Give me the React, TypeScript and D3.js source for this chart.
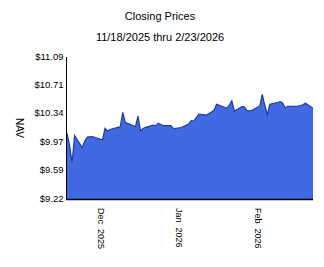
import React from "react";
import * as d3 from "d3";

const dates: string[] = [
  "2025-11-18","2025-11-19","2025-11-20","2025-11-21","2025-11-24","2025-11-25","2025-11-26","2025-11-28",
  "2025-12-01","2025-12-02","2025-12-03","2025-12-04","2025-12-05","2025-12-08","2025-12-09","2025-12-10",
  "2025-12-11","2025-12-12","2025-12-15","2025-12-16","2025-12-17","2025-12-18","2025-12-19","2025-12-22",
  "2025-12-23","2025-12-24","2025-12-26","2025-12-29","2025-12-30","2025-12-31","2026-01-02","2026-01-05",
  "2026-01-06","2026-01-07","2026-01-08","2026-01-09","2026-01-12","2026-01-13","2026-01-14","2026-01-15",
  "2026-01-16","2026-01-20","2026-01-21","2026-01-22","2026-01-23","2026-01-26","2026-01-27","2026-01-28",
  "2026-01-29","2026-01-30","2026-02-02","2026-02-03","2026-02-04","2026-02-05","2026-02-06","2026-02-09",
  "2026-02-10","2026-02-11","2026-02-12","2026-02-13","2026-02-17","2026-02-18","2026-02-19","2026-02-20",
  "2026-02-23",
];

const nav: number[] = [
  10.085, 9.931, 9.698, 10.054, 9.896, 9.984, 10.036, 10.043,
  10.01, 9.997, 10.151, 10.115, 10.135, 10.164, 10.172, 10.362,
  10.225, 10.217, 10.172, 10.313, 10.115, 10.148, 10.164, 10.192,
  10.185, 10.217, 10.185, 10.188, 10.146, 10.151, 10.162, 10.208,
  10.251, 10.247, 10.293, 10.339, 10.326, 10.346, 10.366, 10.392,
  10.467, 10.414, 10.458, 10.514, 10.379, 10.438, 10.431, 10.383,
  10.38, 10.388, 10.445, 10.599, 10.451, 10.335, 10.467, 10.491,
  10.501, 10.488, 10.42, 10.44, 10.445, 10.451, 10.46, 10.48,
  10.414,
];

const yTickValues: number[] = [9.22, 9.594, 9.968, 10.342, 10.716, 11.09];
const yTickLabels: string[] = ["$9.22", "$9.59", "$9.97", "$10.34", "$10.71", "$11.09"];

const xTickDates: string[] = ["2025-12-01", "2026-01-01", "2026-02-01"];
const xTickLabels: string[] = ["Dec  2025", "Jan  2026", "Feb  2026"];

const title = "Closing Prices";
const subtitle = "11/18/2025 thru 2/23/2026";
const yAxisTitle = "NAV";

const W = 324;
const H = 267;
const left = 67;
const right = 313;
const top = 57;
const bottom = 199;
const font = "'Liberation Sans', Arial, sans-serif";

export default function App() {
  const parse = d3.utcParse("%Y-%m-%d");
  const pts = dates.map((d, i) => ({ t: parse(d) as Date, v: nav[i] }));
  const x = d3
    .scaleUtc()
    .domain([pts[0].t, pts[pts.length - 1].t])
    .range([left, right]);
  const y = d3.scaleLinear().domain([9.22, 11.09]).range([bottom, top]);

  const area = d3
    .area<{ t: Date; v: number }>()
    .x((d) => x(d.t))
    .y0(y(9.22))
    .y1((d) => y(d.v));
  const line = d3
    .line<{ t: Date; v: number }>()
    .x((d) => x(d.t))
    .y((d) => y(d.v));

  return (
    <svg
      width={W}
      height={H}
      style={{ position: "absolute", left: 0, top: 0, background: "#fff" }}
      fontFamily={font}
    >
      <rect x={0} y={0} width={W} height={H} fill="#fff" />
      <text x={160} y={20} textAnchor="middle" fontSize={11} fill="#000">
        {title}
      </text>
      <text x={160} y={41} textAnchor="middle" fontSize={11} fill="#000">
        {subtitle}
      </text>

      <path d={area(pts) || ""} fill="#4169E1" />
      <path d={line(pts) || ""} fill="none" stroke="#1f3d9e" strokeWidth={1.2} />

      <line x1={left - 0.5} x2={left - 0.5} y1={top} y2={bottom + 1} stroke="#000" strokeWidth={1} />
      <line x1={left - 1} x2={right} y1={bottom + 0.5} y2={bottom + 0.5} stroke="#000" strokeWidth={1.5} />

      {yTickValues.map((v, i) => (
        <text
          key={i}
          x={63.5}
          y={y(v)}
          textAnchor="end"
          dominantBaseline="middle"
          fontSize={9.5}
          fill="#000"
        >
          {yTickLabels[i]}
        </text>
      ))}

      <text
        transform={`translate(19,128) rotate(90)`}
        textAnchor="middle"
        dominantBaseline="middle"
        fontSize={10}
        fill="#000"
      >
        {yAxisTitle}
      </text>

      {xTickDates.map((d, i) => (
        <text
          key={i}
          transform={`translate(${x(parse(d) as Date)},208) rotate(90)`}
          textAnchor="start"
          dominantBaseline="middle"
          fontSize={9}
          fill="#000"
          style={{ whiteSpace: "pre" }}
        >
          {xTickLabels[i]}
        </text>
      ))}
    </svg>
  );
}
